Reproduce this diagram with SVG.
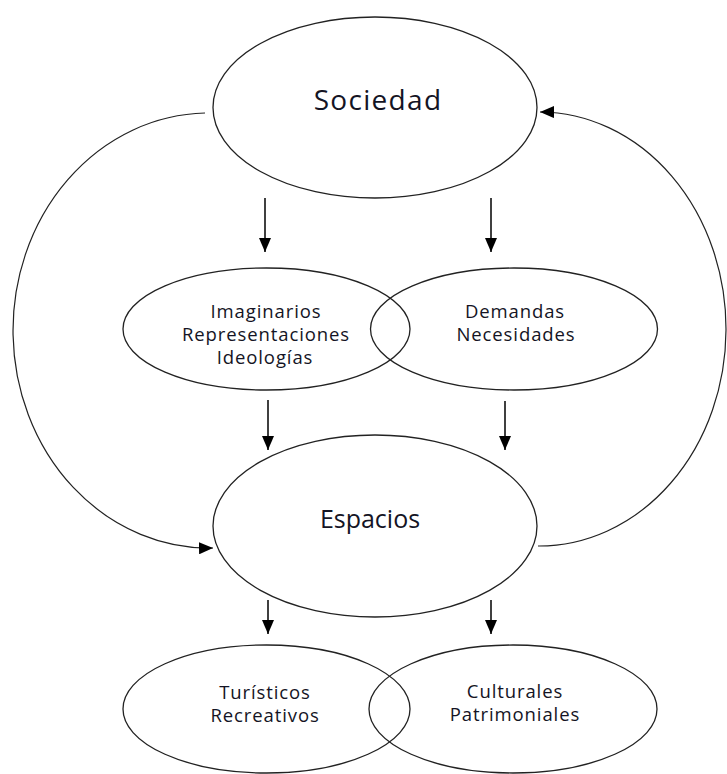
<svg xmlns="http://www.w3.org/2000/svg" width="727" height="774" viewBox="0 0 727 774">
  <defs>
    <marker id="arrow" viewBox="0 0 14 12" refX="14" refY="6" markerWidth="14" markerHeight="12" markerUnits="userSpaceOnUse" orient="auto">
      <path d="M0,0 L14,6 L0,12 Z" fill="#000"/>
    </marker>
  </defs>
  <style>
    .node ellipse { fill: none; stroke: #222; stroke-width: 1.3; }
    .big { font-family: "Open Sans", "Liberation Sans", sans-serif; font-size: 28px; letter-spacing: 1.3px; fill: #141424; text-anchor: middle; }
    .mid { font-family: "Open Sans", "Liberation Sans", sans-serif; font-size: 25px; fill: #141424; text-anchor: middle; }
    .small { font-family: "Open Sans", "Liberation Sans", sans-serif; font-size: 18.5px; letter-spacing: 0.9px; fill: #141424; text-anchor: middle; }
    .conn { fill: none; stroke: #000; stroke-width: 1.5; marker-end: url(#arrow); }
    .curve { fill: none; stroke: #222; stroke-width: 1.2; marker-end: url(#arrow); }
  </style>
  <rect width="727" height="774" fill="#fff"/>

  <g id="connectors">
    <line class="conn" x1="265" y1="198" x2="265" y2="252"/>
    <line class="conn" x1="491" y1="198" x2="491" y2="252"/>
    <line class="conn" x1="268" y1="400" x2="268" y2="450"/>
    <line class="conn" x1="505" y1="401" x2="505" y2="450"/>
    <line class="conn" x1="268" y1="600" x2="268" y2="634"/>
    <line class="conn" x1="491" y1="600" x2="491" y2="634"/>
    <path class="curve" d="M205,113 A196 217.5 0 0 0 213,548"/>
    <path class="curve" d="M538,546 A187 217 0 0 0 540,112"/>
  </g>

  <g id="sociedad" class="node">
    <ellipse cx="375" cy="107.5" rx="162" ry="90.5"/>
    <text class="big" x="378" y="110">Sociedad</text>
  </g>

  <g id="imaginarios" class="node">
    <ellipse cx="266.5" cy="329" rx="143.5" ry="61"/>
    <text class="small" x="266" y="318">Imaginarios</text>
    <text class="small" x="266" y="341">Representaciones</text>
    <text class="small" x="265" y="364">Ideologías</text>
  </g>

  <g id="demandas" class="node">
    <ellipse cx="514" cy="329" rx="143.5" ry="61"/>
    <text class="small" x="515" y="318">Demandas</text>
    <text class="small" x="516" y="341">Necesidades</text>
  </g>

  <g id="espacios" class="node">
    <ellipse cx="375" cy="526" rx="162" ry="91"/>
    <text class="mid" x="370" y="528">Espacios</text>
  </g>

  <g id="turisticos" class="node">
    <ellipse cx="266.5" cy="709" rx="143.5" ry="64"/>
    <text class="small" x="265" y="699">Turísticos</text>
    <text class="small" x="265" y="722">Recreativos</text>
  </g>

  <g id="culturales" class="node">
    <ellipse cx="513" cy="709" rx="144" ry="64"/>
    <text class="small" x="515" y="698">Culturales</text>
    <text class="small" x="515" y="721">Patrimoniales</text>
  </g>
</svg>
